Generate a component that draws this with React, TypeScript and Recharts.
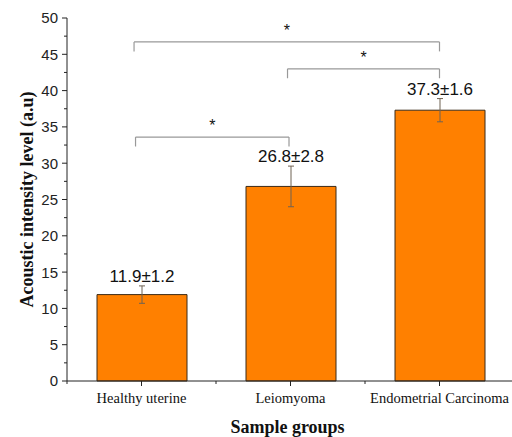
import React from 'react'
import {
  BarChart, Bar, XAxis, YAxis, ErrorBar, LabelList, ReferenceLine, Label
} from 'recharts'

const groups = ['Healthy uterine', 'Leiomyoma', 'Endometrial Carcinoma']
const means = [11.9, 26.8, 37.3]
const sds = [1.2, 2.8, 1.6]
const yTicks = [0, 2.5, 5, 7.5, 10, 12.5, 15, 17.5, 20, 22.5, 25, 27.5, 30, 32.5, 35, 37.5, 40, 42.5, 45, 47.5, 50]
// x runs 0..3, group i sits at i + 0.5, whole numbers are the minor ticks between groups
const xTicks = [0, 0.5, 1, 1.5, 2, 2.5, 3]

// significance brackets on the same 0..3 scale
const bracketX1 = [0.45, 1.48, 0.46]
const bracketX2 = [2.5, 2.5, 1.49]
const bracketY = [46.7, 43.0, 33.6]
const bracketMark = ['*', '*', '*']
const legDrop = 1.3

const data = groups.map((g, i) => ({ group: g, pos: i + 0.5, mean: means[i], sd: sds[i] }))

const SANS = '"Liberation Sans", Arial, sans-serif'
const SERIF = '"Liberation Serif", "Times New Roman", serif'

const YTick = ({ x, y, payload }: any) => {
  const major = payload.value % 5 === 0
  return (
    <g>
      <line x1={x - (major ? 5 : 3)} x2={x} y1={y} y2={y} stroke="#222" />
      {major && (
        <text x={x - 9} y={y} dy="0.36em" textAnchor="end" fontSize={15} fontFamily={SANS} fill="#222">
          {payload.value}
        </text>
      )}
    </g>
  )
}

const XTick = ({ x, y, payload }: any) => {
  const isGroup = payload.value % 1 !== 0
  return (
    <g>
      <line x1={x} x2={x} y1={y} y2={y + (isGroup ? 5 : 3)} stroke="#222" />
      {isGroup && (
        <text x={x} y={y + 22} textAnchor="middle" fontSize={14.5} fontFamily={SERIF} fill="#111">
          {groups[Math.floor(payload.value)]}
        </text>
      )}
    </g>
  )
}

const BarLabel = ({ x, y, width, height, value, index }: any) => {
  const pxPerUnit = height / value
  const top = y - sds[index] * pxPerUnit
  return (
    <text x={x + width / 2} y={top - 4} textAnchor="middle" fontSize={17} fontFamily={SANS} fill="#111">
      {`${means[index].toFixed(1)}±${sds[index].toFixed(1)}`}
    </text>
  )
}

export default function App() {
  return (
    <div style={{ position: 'fixed', left: 0, top: 0, width: 512, height: 437, overflow: 'hidden', background: '#fff' }}>
      <BarChart width={520} height={437} data={data} margin={{ top: 18, right: 6, bottom: 6, left: 7 }}>
        <XAxis
          dataKey="pos" type="number" domain={[0, 3]} allowDataOverflow ticks={xTicks} interval={0}
          height={50} tickSize={0} tickMargin={0} tickLine={false}
          axisLine={{ stroke: '#222' }} tick={<XTick />}
        >
          <Label content={({ viewBox }: any) => (
            <text x={viewBox.x + viewBox.width / 2 - 3} y={viewBox.y + 52} textAnchor="middle"
              fontSize={18} fontWeight="bold" fontFamily={SERIF} fill="#111">
              Sample groups
            </text>
          )} />
        </XAxis>
        <YAxis
          width={60} domain={[0, 50]} ticks={yTicks} interval={0}
          tickSize={0} tickMargin={0} tickLine={false}
          axisLine={{ stroke: '#222' }} tick={<YTick />}
        >
          <Label content={({ viewBox }: any) => (
            <text transform={`translate(${viewBox.x + 26}, ${viewBox.y + viewBox.height / 2}) rotate(-90)`}
              textAnchor="middle" fontSize={18} fontWeight="bold" fontFamily={SERIF} fill="#111">
              Acoustic intensity level (a.u)
            </text>
          )} />
        </YAxis>
        <Bar dataKey="mean" fill="#FF8000" stroke="#3b2a18" strokeWidth={1}
          barSize={90} isAnimationActive={false}>
          <ErrorBar dataKey="sd" width={3} stroke="#6f6253" strokeWidth={1} isAnimationActive={false} />
          <LabelList dataKey="mean" content={<BarLabel />} />
        </Bar>
        {bracketY.map((by, i) => (
          <ReferenceLine key={`h${i}`}
            segment={[{ x: bracketX1[i], y: by }, { x: bracketX2[i], y: by }]}
            stroke="#999" strokeWidth={1.2}
            label={{ value: bracketMark[i], position: 'top', offset: 6, fill: '#111', fontSize: 16, fontFamily: SANS }}
          />
        ))}
        {bracketY.map((by, i) => (
          <ReferenceLine key={`l${i}`}
            segment={[{ x: bracketX1[i], y: by }, { x: bracketX1[i], y: by - legDrop }]}
            stroke="#999" strokeWidth={1.2}
          />
        ))}
        {bracketY.map((by, i) => (
          <ReferenceLine key={`r${i}`}
            segment={[{ x: bracketX2[i], y: by }, { x: bracketX2[i], y: by - legDrop }]}
            stroke="#999" strokeWidth={1.2}
          />
        ))}
      </BarChart>
    </div>
  )
}
